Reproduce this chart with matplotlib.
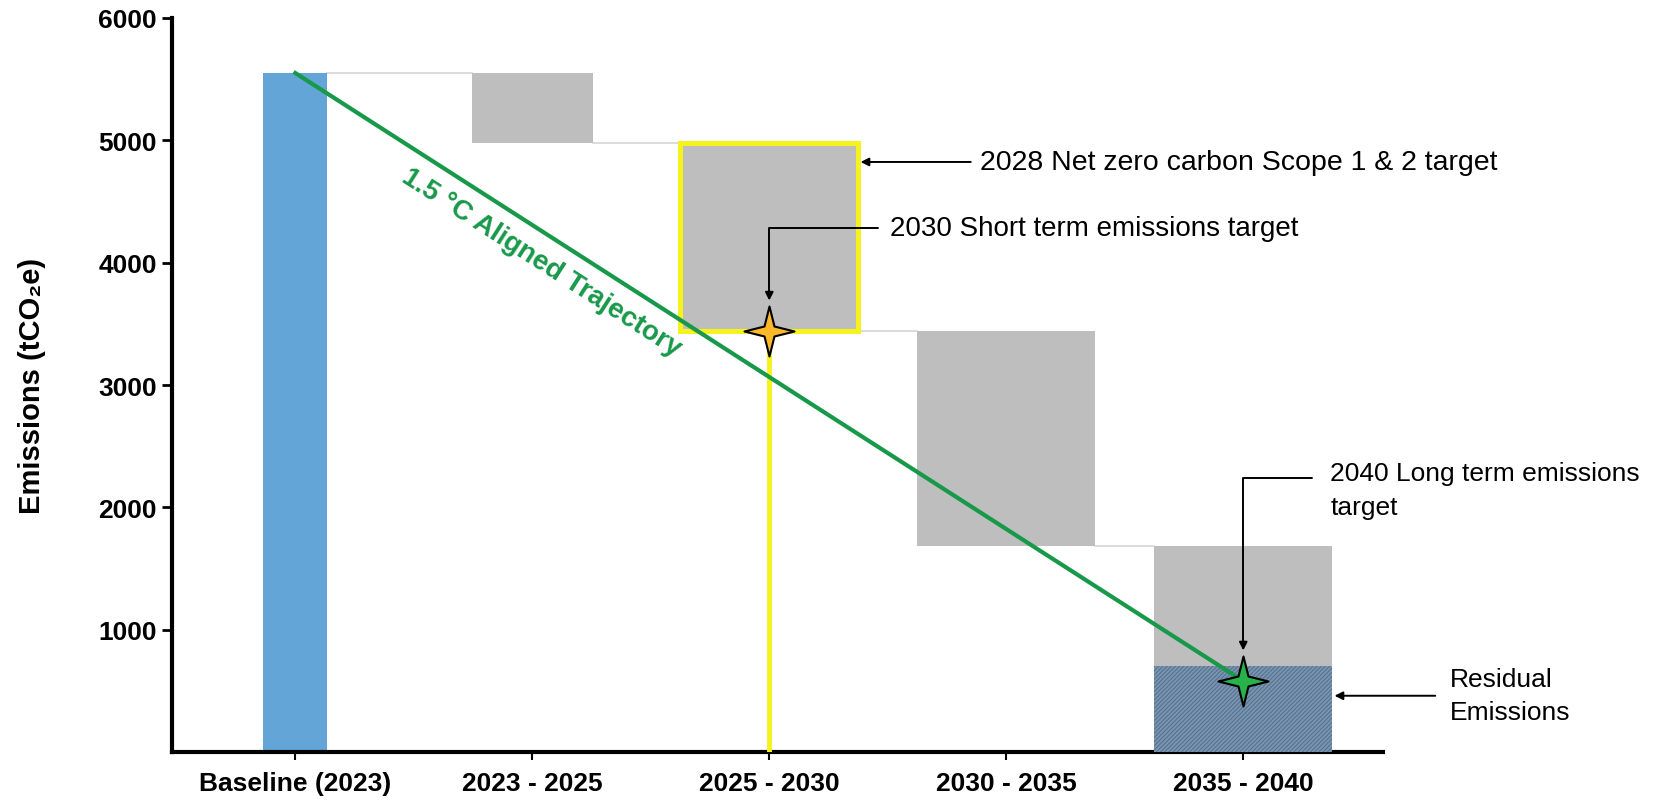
import matplotlib
matplotlib.use('Agg')
import matplotlib.pyplot as plt
from matplotlib.path import Path
import numpy as np

plt.rcParams['font.family'] = ['Liberation Sans', 'DejaVu Sans']
plt.rcParams['hatch.linewidth'] = 0.8

# data (tCO2e)
categories = ['Baseline (2023)', '2023 - 2025', '2025 - 2030', '2030 - 2035', '2035 - 2040']
bar_top = [5550, 5550, 4980, 3440, 1680]
bar_bottom = [0, 4980, 3440, 1680, 700]
residual_emissions = 700
trajectory_start = 5550
trajectory_end = 580
short_term_target = 3440   # 2030 target, end of 2025 - 2030 step
long_term_target = 580     # 2040 target
y_ticks = [1000, 2000, 3000, 4000, 5000, 6000]

x = np.arange(len(categories))
widths = [0.27, 0.51, 0.75, 0.75, 0.75]
colors = ['#63a5d6', '#bebebe', '#bebebe', '#bebebe', '#bebebe']
green = '#18994a'

# 4 point star marker
a = 0.2
star = Path([(0, 1), (a, a), (1, 0), (a, -a), (0, -1), (-a, -a), (-1, 0), (-a, a), (0, 1)],
            [Path.MOVETO] + [Path.LINETO] * 7 + [Path.CLOSEPOLY])

fig = plt.figure(figsize=(16.69, 8.04), dpi=100)
ax = fig.add_axes([0.1031, 0.0634, 0.7256, 0.913])
ax.set_xlim(-0.52, 4.59)
ax.set_ylim(0, 6000)

# thin connectors between the steps
for i in range(len(categories) - 1):
    ax.plot([x[i] + widths[i] / 2, x[i + 1] - widths[i + 1] / 2], [bar_top[i + 1]] * 2,
            color='#d4d4d4', lw=1.2, zorder=1)

heights = [t - b for t, b in zip(bar_top, bar_bottom)]
bars = ax.bar(x, heights, bottom=bar_bottom, width=widths, color=colors, zorder=2)
bars[2].set_edgecolor('#f6f21e')
bars[2].set_linewidth(3.6)

# residual emissions (hatched)
ax.bar(x[4], residual_emissions, width=widths[4], color='#7995b1', hatch='/' * 8,
       edgecolor='#56728f', lw=0, zorder=3)

# yellow drop line from the short term target
ax.plot([x[2], x[2]], [0, short_term_target], color='#f6f21e', lw=3.5, zorder=3)

# 1.5C trajectory
ax.plot([x[0], x[4]], [trajectory_start, trajectory_end], color=green, lw=3, zorder=4)

ax.plot(x[2], short_term_target, marker=star, ms=36, mfc='#fbb829', mec='black', mew=1.5, zorder=6)
ax.plot(x[4], long_term_target, marker=star, ms=36, mfc='#27b24c', mec='black', mew=1.5, zorder=6)

p0 = ax.transData.transform((x[0], trajectory_start))
p1 = ax.transData.transform((x[4], trajectory_end))
angle = np.degrees(np.arctan2(p1[1] - p0[1], p1[0] - p0[0]))
ax.text(1.04, 4005, '1.5 °C Aligned Trajectory', rotation=angle, rotation_mode='anchor',
        ha='center', va='center', color=green, fontsize=20, fontweight='bold', zorder=5)

arrow = dict(arrowstyle='-|>', color='black', lw=1.4, mutation_scale=12, shrinkA=0, shrinkB=0)
elbow = dict(arrow, connectionstyle='angle,angleA=180,angleB=90,rad=0', shrinkB=22)

# annotations
ax.annotate('', xy=(x[2] + widths[2] / 2 + 0.01, 4823), xytext=(2.85, 4823), arrowprops=arrow,
            annotation_clip=False)
ax.text(2.89, 4823, '2028 Net zero carbon Scope 1 & 2 target', fontsize=20.5, va='center', ha='left')

ax.annotate('', xy=(x[2], short_term_target), xytext=(2.46, 4283), arrowprops=elbow,
            annotation_clip=False)
ax.text(2.51, 4283, '2030 Short term emissions target', fontsize=20, va='center', ha='left')

ax.annotate('', xy=(x[4], long_term_target), xytext=(4.29, 2240), arrowprops=elbow,
            annotation_clip=False)
ax.text(4.367, 2140, '2040 Long term emissions\ntarget', fontsize=19, va='center', ha='left',
        linespacing=1.55)

ax.annotate('', xy=(x[4] + widths[4] / 2 + 0.01, 460), xytext=(4.81, 460), arrowprops=arrow,
            annotation_clip=False)
ax.text(4.873, 460, 'Residual\nEmissions', fontsize=19, va='center', ha='left', linespacing=1.5)

# axes styling
for s in ['top', 'right']:
    ax.spines[s].set_visible(False)
for s in ['left', 'bottom']:
    ax.spines[s].set_linewidth(3)
ax.set_xticks(x, categories)
ax.set_yticks(y_ticks)
ax.tick_params(axis='x', length=6, width=1.5, pad=8, labelsize=19)
ax.tick_params(axis='y', length=7, width=2, pad=4, labelsize=19)
for lab in ax.get_xticklabels() + ax.get_yticklabels():
    lab.set_fontweight('bold')

ax.set_ylabel('Emissions (tCO₂e)', fontsize=21, fontweight='bold')
ax.yaxis.set_label_coords(-0.104, 0.5)

fig.savefig('out.png', dpi=100)
